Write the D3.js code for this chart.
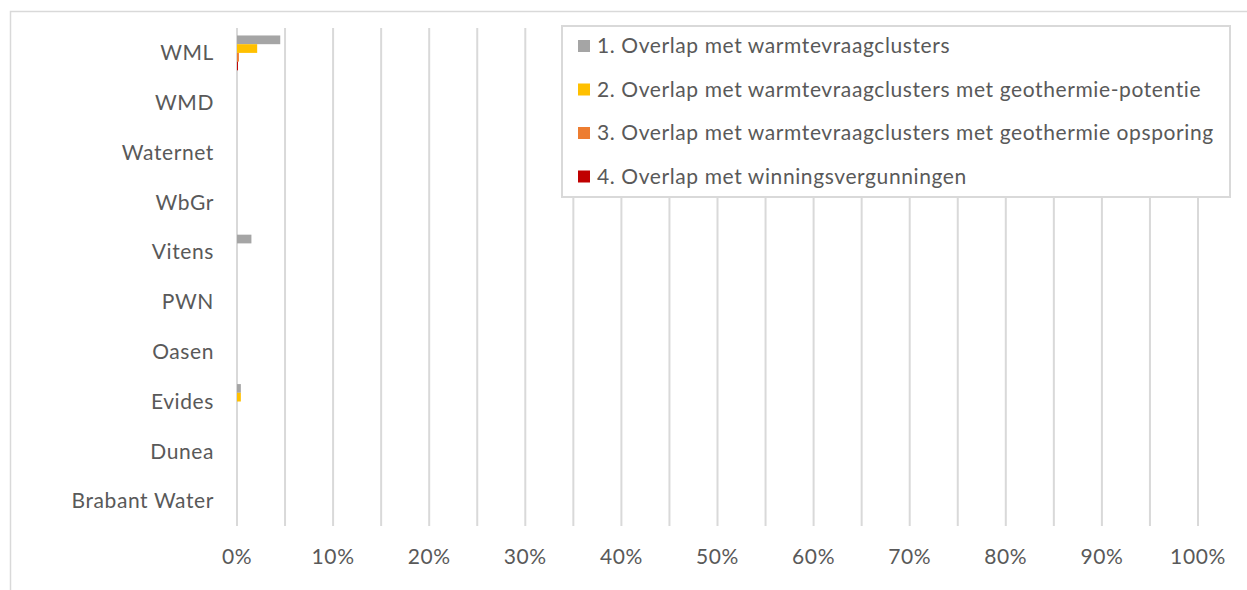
<!DOCTYPE html>
<html><head><meta charset="utf-8">
<script src="https://cdn.jsdelivr.net/npm/d3@7"></script>
<style>
body{margin:0;background:#fff;}
text{font-family:Lato,"Open Sans",sans-serif;fill:#595959;letter-spacing:0.6px;}
</style></head>
<body>
<svg id="chart" width="1247" height="590"></svg>
<script>
const categories = ["WML","WMD","Waternet","WbGr","Vitens","PWN","Oasen","Evides","Dunea","Brabant Water"];
const seriesNames = [
  "1. Overlap met warmtevraagclusters",
  "2. Overlap met warmtevraagclusters met geothermie-potentie",
  "3. Overlap met warmtevraagclusters met geothermie opsporing",
  "4. Overlap met winningsvergunningen"
];
const seriesColors = ["#A5A5A5","#FFC000","#ED7D31","#C00000"];
const s1 = [0.045,0,0,0,0.015,0,0,0.004,0,0];
const s2 = [0.021,0,0,0,0,0,0,0.004,0,0];
const s3 = [0.002,0,0,0,0,0,0,0,0,0];
const s4 = [0.001,0,0,0,0,0,0,0,0,0];
const seriesValues = [s1,s2,s3,s4];
const xTicks = [0,0.1,0.2,0.3,0.4,0.5,0.6,0.7,0.8,0.9,1.0];
const gridTicks = d3.range(0,21).map(i=>i*0.05);

const svg = d3.select("#chart");
svg.append("rect").attr("x",10.5).attr("y",11.5).attr("width",1300).attr("height",700)
  .attr("fill","none").attr("stroke","#d9d9d9").attr("stroke-width",1.5);

const x = d3.scaleLinear().domain([0,1]).range([237,1198]);
const y = d3.scaleBand().domain(categories).range([28,526]).paddingInner(0.3).paddingOuter(0.15);
const ys = d3.scaleBand().domain(d3.range(4)).range([0,y.bandwidth()]);

svg.append("g").selectAll("line").data(gridTicks).join("line")
  .attr("x1",d=>x(d)).attr("x2",d=>x(d)).attr("y1",28).attr("y2",526)
  .attr("stroke","#d9d9d9").attr("stroke-width",2);

categories.forEach((c,i)=>{
  seriesValues.forEach((vals,j)=>{
    if(vals[i]>0){
      svg.append("rect").attr("x",x(0)).attr("y",y(c)+ys(j))
        .attr("width",x(vals[i])-x(0)).attr("height",ys.bandwidth())
        .attr("fill",seriesColors[j]);
    }
  });
});

svg.append("g").selectAll("text").data(categories).join("text")
  .attr("x",214).attr("y",d=>y(d)-y.step()*0.15+y.step()/2)
  .attr("dy","0.35em").attr("text-anchor","end").attr("font-size",21).text(d=>d);

svg.append("g").selectAll("text").data(xTicks).join("text")
  .attr("x",d=>x(d)).attr("y",557).attr("dy","0.35em").attr("text-anchor","middle")
  .attr("font-size",21).text(d=>d3.format(".0%")(d));

const lg = svg.append("g");
lg.append("rect").attr("x",562).attr("y",26).attr("width",668).attr("height",171)
  .attr("fill","#fff").attr("stroke","#d9d9d9").attr("stroke-width",2);
seriesNames.forEach((n,i)=>{
  const yy = 46 + i*43.5;
  lg.append("rect").attr("x",578).attr("y",yy-6).attr("width",12).attr("height",12).attr("fill",seriesColors[i]);
  lg.append("text").attr("x",597).attr("y",yy).attr("dy","0.35em").attr("font-size",21).text(n);
});
</script>
</body></html>
